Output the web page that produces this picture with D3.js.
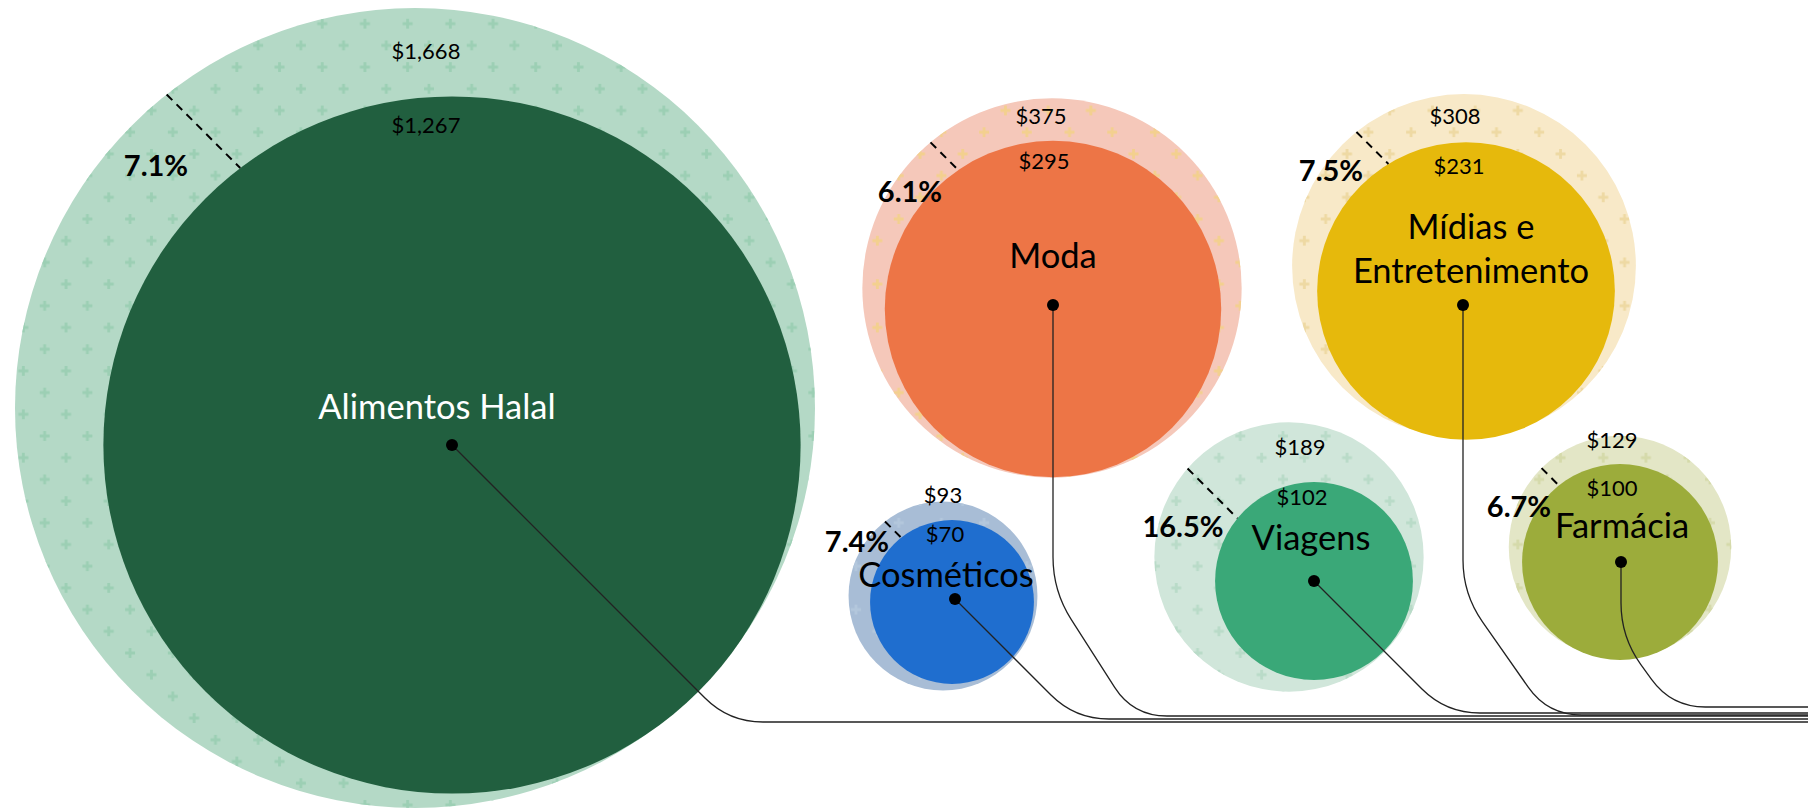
<html>
<head>
<meta charset="utf-8">
<script src="https://d3js.org/d3.v7.min.js"></script>
<style>
  body { margin: 0; background: #fff; }
  text { font-family: Lato, "Open Sans", sans-serif; }
</style>
</head>
<body>
<svg id="chart" width="1808" height="809"></svg>
<script>
// values (US$ bn): inner = current, outer = projected, plus growth rate
const categories = ["Alimentos Halal", "Moda", "Mídias e Entretenimento", "Cosméticos", "Viagens", "Farmácia"];
const labelLines = [["Alimentos Halal"], ["Moda"], ["Mídias e", "Entretenimento"], ["Cosméticos"], ["Viagens"], ["Farmácia"]];
const currentValues = [1267, 295, 231, 70, 102, 100];
const projectedValues = [1668, 375, 308, 93, 189, 129];
const growthRates = [7.1, 6.1, 7.5, 7.4, 16.5, 6.7];

const innerColors = ["#215f3f", "#ed7546", "#e6b90c", "#1f6ecf", "#3aa878", "#9cac3b"];
const outerColors = ["#b4d9c6", "#f5c8ba", "#f8e9c8", "#a8bdd6", "#d0e6da", "#e3e6c6"];
const plusColors  = ["#9ccfb4", "#f3d08e", "#eed9a3", "#b3c7dc", "#b9dbc8", "#d5daaa"];

// where each bubble sits on the page
const layout = [
  { outer: [415, 408], inner: [452, 445], dot: [452, 445], cut: -127.4,
    outerLbl: [426, 59], innerLbl: [426, 133], name: [437, 419], pct: [156, 176],
    bendY: null, slope: 1, endY: 722, white: true },
  { outer: [1052, 288], inner: [1053, 309], dot: [1053, 305], cut: -124.3,
    outerLbl: [1041, 124], innerLbl: [1044, 169], name: [1053, 268], pct: [910, 202],
    bendY: 591, slope: 0.64, endY: 716 },
  { outer: [1464, 266], inner: [1466, 291], dot: [1463, 305], cut: -121.4,
    outerLbl: [1455, 124], innerLbl: [1459, 174], name: [1471, 239], pct: [1331, 181],
    bendY: 594, slope: 0.7, endY: 715 },
  { outer: [943, 596], inner: [952, 602], dot: [955, 599], cut: -128.3,
    outerLbl: [943, 503], innerLbl: [945, 542], name: [946, 587], pct: [857, 552],
    bendY: null, slope: 1, endY: 719 },
  { outer: [1289, 557], inner: [1314, 581], dot: [1314, 581], cut: -140.7,
    outerLbl: [1300, 455], innerLbl: [1302, 505], name: [1311, 550], pct: [1183, 537],
    bendY: null, slope: 1, endY: 713 },
  { outer: [1620, 547], inner: [1620, 562], dot: [1621, 562], cut: -128.6,
    outerLbl: [1612, 448], innerLbl: [1612, 496], name: [1622, 538], pct: [1519, 517],
    bendY: 637, slope: 0.72, endY: 707 }
];

const svg = d3.select("#chart");
const width = +svg.attr("width");

const rScale = d3.scaleSqrt()
    .domain([0, d3.max(projectedValues)])
    .range([0, 400]);

const fmt = d3.format(",");

const rows = categories.map((c, i) => ({
  name: c, lines: labelLines[i], cur: currentValues[i], proj: projectedValues[i],
  rate: growthRates[i], pos: layout[i], i: i
}));

// plus-sign patterns for the outer rings
const defs = svg.append("defs");
rows.forEach(d => {
  const pat = defs.append("pattern")
      .attr("id", "plus" + d.i)
      .attr("patternUnits", "userSpaceOnUse")
      .attr("width", 42.7).attr("height", 43.4)
      .attr("x", 2).attr("y", 2);
  [[0, 0], [21.35, 21.7], [42.7, 0], [0, 43.4], [42.7, 43.4]].forEach(p => {
    pat.append("path")
        .attr("d", `M${p[0] - 5},${p[1]}h10M${p[0]},${p[1] - 5}v10`)
        .attr("stroke", plusColors[d.i])
        .attr("stroke-width", 2.8);
  });
});

const g = svg.append("g");

g.selectAll("circle.outer").data(rows)
  .join("circle")
    .attr("class", "outer")
    .attr("cx", d => d.pos.outer[0])
    .attr("cy", d => d.pos.outer[1])
    .attr("r", d => rScale(d.proj))
    .attr("fill", d => outerColors[d.i]);

g.selectAll("circle.pattern").data(rows)
  .join("circle")
    .attr("class", "pattern")
    .attr("cx", d => d.pos.outer[0])
    .attr("cy", d => d.pos.outer[1])
    .attr("r", d => rScale(d.proj))
    .attr("fill", d => `url(#plus${d.i})`);

g.selectAll("circle.inner").data(rows)
  .join("circle")
    .attr("class", "inner")
    .attr("cx", d => d.pos.inner[0])
    .attr("cy", d => d.pos.inner[1])
    .attr("r", d => rScale(d.cur))
    .attr("fill", d => innerColors[d.i]);

// dashed cut between inner and outer edge, running at 45 degrees
function cutLine(d) {
  const ri = rScale(d.cur), ro = rScale(d.proj);
  const a = d.pos.cut * Math.PI / 180;
  const x1 = d.pos.inner[0] + ri * Math.cos(a);
  const y1 = d.pos.inner[1] + ri * Math.sin(a);
  const dx = x1 - d.pos.outer[0], dy = y1 - d.pos.outer[1];
  // solve |(dx - s, dy - s)| = ro
  const A = 2, B = -2 * (dx + dy), C = dx * dx + dy * dy - ro * ro;
  const s = (-B + Math.sqrt(B * B - 4 * A * C)) / (2 * A);
  return [[x1 - s, y1 - s], [x1, y1]];
}

g.selectAll("line.cut").data(rows)
  .join("line")
    .attr("class", "cut")
    .attr("x1", d => cutLine(d)[0][0])
    .attr("y1", d => cutLine(d)[0][1])
    .attr("x2", d => cutLine(d)[1][0])
    .attr("y2", d => cutLine(d)[1][1])
    .attr("stroke", "#000")
    .attr("stroke-width", 2)
    .attr("stroke-dasharray", "8,6");

// labels
g.selectAll("text.proj").data(rows)
  .join("text")
    .attr("class", "proj")
    .attr("x", d => d.pos.outerLbl[0])
    .attr("y", d => d.pos.outerLbl[1])
    .attr("text-anchor", "middle")
    .style("font-size", "22px")
    .text(d => "$" + fmt(d.proj));

g.selectAll("text.cur").data(rows)
  .join("text")
    .attr("class", "cur")
    .attr("x", d => d.pos.innerLbl[0])
    .attr("y", d => d.pos.innerLbl[1])
    .attr("text-anchor", "middle")
    .style("font-size", "22px")
    .text(d => "$" + fmt(d.cur));

g.selectAll("text.rate").data(rows)
  .join("text")
    .attr("class", "rate")
    .attr("x", d => d.pos.pct[0])
    .attr("y", d => d.pos.pct[1])
    .attr("text-anchor", "middle")
    .style("font-size", "29px")
    .style("font-weight", "bold")
    .text(d => d.rate.toFixed(1) + "%");

g.selectAll("text.name").data(rows)
  .join("text")
    .attr("class", "name")
    .attr("x", d => d.pos.name[0])
    .attr("y", d => d.pos.name[1])
    .attr("text-anchor", "middle")
    .attr("fill", d => d.pos.white ? "#fff" : "#000")
    .style("font-size", "34.5px")
  .selectAll("tspan").data(d => d.lines.map(l => ({ l: l, x: d.pos.name[0] })))
  .join("tspan")
    .attr("x", t => t.x)
    .attr("dy", (t, k) => k === 0 ? 0 : 44)
    .text(t => t.l);

// leader lines with rounded elbows
function roundedPath(pts, r) {
  const p = d3.path();
  p.moveTo(pts[0][0], pts[0][1]);
  for (let i = 1; i < pts.length - 1; i++) {
    const [x0, y0] = pts[i - 1], [x1, y1] = pts[i], [x2, y2] = pts[i + 1];
    const l1 = Math.hypot(x1 - x0, y1 - y0), l2 = Math.hypot(x2 - x1, y2 - y1);
    const rr = Math.min(r, l1 / 2, l2 / 2);
    p.lineTo(x1 - (x1 - x0) / l1 * rr, y1 - (y1 - y0) / l1 * rr);
    p.quadraticCurveTo(x1, y1, x1 + (x2 - x1) / l2 * rr, y1 + (y2 - y1) / l2 * rr);
  }
  const last = pts[pts.length - 1];
  p.lineTo(last[0], last[1]);
  return p.toString();
}

function leaderPoints(d) {
  const [x0, y0] = d.pos.dot;
  const pts = [[x0, y0]];
  let startY = y0;
  if (d.pos.bendY !== null) { pts.push([x0, d.pos.bendY]); startY = d.pos.bendY; }
  pts.push([x0 + d.pos.slope * (d.pos.endY - startY), d.pos.endY]);
  pts.push([width, d.pos.endY]);
  return pts;
}

g.selectAll("path.leader").data(rows)
  .join("path")
    .attr("class", "leader")
    .attr("d", d => roundedPath(leaderPoints(d), 34))
    .attr("fill", "none")
    .attr("stroke", "#222")
    .attr("stroke-width", 1.3);

g.selectAll("circle.dot").data(rows)
  .join("circle")
    .attr("class", "dot")
    .attr("cx", d => d.pos.dot[0])
    .attr("cy", d => d.pos.dot[1])
    .attr("r", 6)
    .attr("fill", "#000");
</script>
</body>
</html>
